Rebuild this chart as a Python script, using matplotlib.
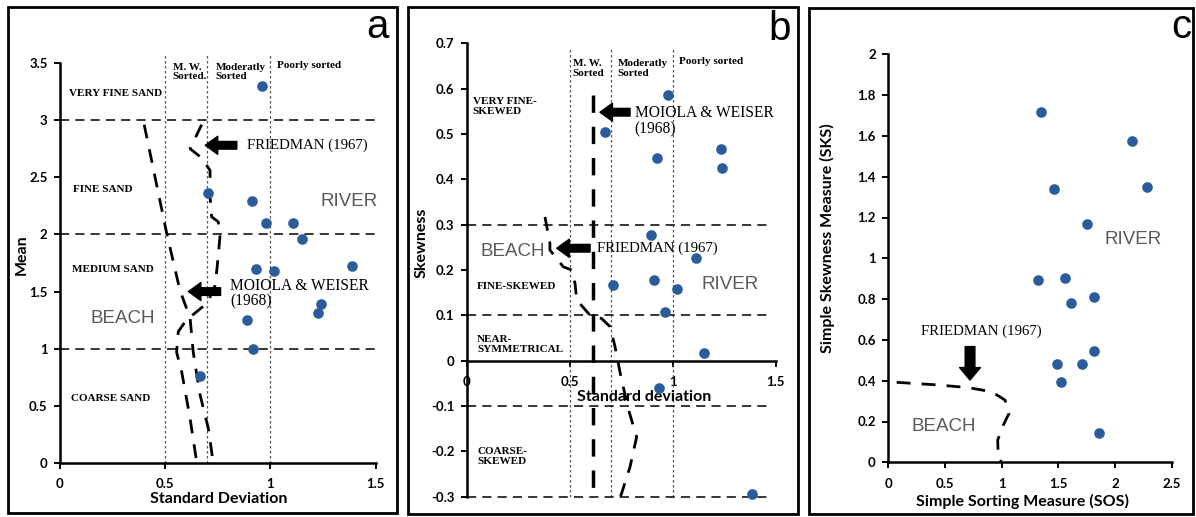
import matplotlib
matplotlib.use("Agg")
from matplotlib import pyplot as plt
from matplotlib.patches import Rectangle

# ---- panel a : mean vs standard deviation ----
a_sd = [0.958, 0.705, 0.91, 0.977, 1.107, 1.148, 0.931, 1.017, 1.387, 1.241, 1.227, 0.89, 0.918, 0.665]
a_mean = [3.30, 2.36, 2.295, 2.10, 2.10, 1.957, 1.697, 1.68, 1.726, 1.39, 1.31, 1.248, 1.0, 0.76]

a_moiola_x = [0.40, 0.507, 0.57, 0.618, 0.633, 0.665, 0.705, 0.728]
a_moiola_y = [2.96, 2.01, 1.51, 1.27, 0.97, 0.6, 0.3, 0.0]
a_friedman_x = [0.673, 0.618, 0.673, 0.713, 0.713, 0.72, 0.752, 0.76, 0.747, 0.736, 0.70,
                0.64, 0.60, 0.562, 0.554, 0.578, 0.618, 0.65]
a_friedman_y = [2.96, 2.75, 2.67, 2.56, 2.33, 2.155, 2.11, 1.98, 1.72, 1.55, 1.40,
                1.31, 1.25, 1.15, 0.97, 0.80, 0.39, 0.0]

a_yticks = [0, 0.5, 1, 1.5, 2, 2.5, 3, 3.5]
a_yticklabels = ["0", "0.5", "1", "1.5", "2", "2.5", "3", "3.5"]
a_mean_bounds = [1, 2, 3]

# ---- panel b : skewness vs standard deviation ----
b_sd = [0.979, 0.671, 0.922, 1.233, 1.238, 0.895, 1.112, 0.712, 0.911, 1.019, 0.963, 1.152, 0.935, 1.387]
b_skew = [0.587, 0.505, 0.446, 0.467, 0.426, 0.277, 0.226, 0.168, 0.179, 0.157, 0.107, 0.017, -0.061, -0.293]

b_moiola_x = [0.615, 0.615]
b_moiola_y = [0.586, -0.3]
b_friedman_x = [0.38, 0.404, 0.404, 0.469, 0.51, 0.526, 0.534, 0.599, 0.655, 0.696, 0.72,
                0.752, 0.79, 0.825, 0.793, 0.744]
b_friedman_y = [0.317, 0.259, 0.244, 0.207, 0.2, 0.17, 0.134, 0.10, 0.093, 0.075, 0.031,
                -0.043, -0.115, -0.168, -0.234, -0.304]

b_yticks = [-0.3, -0.2, -0.1, 0, 0.1, 0.2, 0.3, 0.4, 0.5, 0.6, 0.7]
b_yticklabels = ["-0.3", "-0.2", "-0.1", "0", "0.1", "0.2", "0.3", "0.4", "0.5", "0.6", "0.7"]
b_skew_bounds = [0.3, 0.1, -0.1, -0.3]

sd_ticks = [0, 0.5, 1, 1.5]
sd_ticklabels = ["0", "0.5", "1", "1.5"]
sorting_bounds = [0.5, 0.7, 1.0]

# ---- panel c : simple skewness vs simple sorting ----
c_sos = [1.348, 2.148, 1.462, 2.28, 1.756, 1.318, 1.56, 1.61, 1.816, 1.816, 1.492, 1.712, 1.524, 1.86]
c_sks = [1.719, 1.575, 1.338, 1.351, 1.168, 0.894, 0.902, 0.782, 0.812, 0.546, 0.48, 0.48, 0.392, 0.142]

c_friedman_x = [0.074, 0.441, 0.706, 0.912, 1.03, 1.065, 1.015, 0.965, 0.97, 1.0]
c_friedman_y = [0.392, 0.379, 0.366, 0.346, 0.305, 0.24, 0.183, 0.109, 0.02, 0.0]

c_xticks = [0, 0.5, 1, 1.5, 2, 2.5]
c_xticklabels = ["0", "0.5", "1", "1.5", "2", "2.5"]
c_yticks = [0, 0.2, 0.4, 0.6, 0.8, 1, 1.2, 1.4, 1.6, 1.8, 2]
c_yticklabels = ["0", "0.2", "0.4", "0.6", "0.8", "1", "1.2", "1.4", "1.6", "1.8", "2"]

dot_color = "#2B5C9A"
label_gray = "#595959"
serif = ["Liberation Serif", "DejaVu Serif"]
sans = ["Lato", "DejaVu Sans"]
arial = ["Liberation Sans", "DejaVu Sans"]

W, H = 1196, 517
fig = plt.figure(figsize=(W / 100, H / 100), dpi=100)


def px_axes(left, right, top, bottom):
    return fig.add_axes([left / W, 1 - bottom / H, (right - left) / W, (bottom - top) / H])


def style_axes(ax):
    for s in ["top", "right"]:
        ax.spines[s].set_visible(False)
    for s in ["left", "bottom"]:
        ax.spines[s].set_linewidth(1.8)
    ax.tick_params(direction="out", length=4, width=1.4, labelsize=9.5)
    ax.tick_params(axis="x", pad=7)
    ax.tick_params(axis="y", pad=5)
    for lab in ax.get_xticklabels() + ax.get_yticklabels():
        lab.set_family(sans)
        lab.set_fontweight("bold")


def axis_title(ax, x, y, txt, rot=0):
    ax.text(x, y, txt, transform=ax.transAxes, rotation=rot, family=sans, fontweight="bold",
            fontsize=11.5, ha="center", va="center")


def zone(ax, x, y, txt):
    ax.text(x, y, txt, family=serif, fontsize=8, fontweight="bold", va="center", linespacing=1.1)


def big_arrow(ax, tail, head, w=5.5, hw=13, hl=9):
    ax.annotate("", xy=head, xytext=tail,
                arrowprops=dict(facecolor="black", edgecolor="black", width=w,
                                headwidth=hw, headlength=hl, shrink=0))


# panel frames
for x0, x1, y0, y1 in [(8, 397, 7, 513), (408, 798, 7, 514), (809, 1193, 8, 514)]:
    fig.add_artist(Rectangle((x0 / W, 1 - y1 / H), (x1 - x0) / W, (y1 - y0) / H,
                             transform=fig.transFigure, fill=False, lw=2, ec="black"))

# ================= panel a =================
ax = px_axes(60, 375.7, 63, 463)
ax.set_xlim(0, 1.5)
ax.set_ylim(0, 3.5)
ax.set_xticks(sd_ticks)
ax.set_xticklabels(sd_ticklabels)
ax.set_yticks(a_yticks)
ax.set_yticklabels(a_yticklabels)
style_axes(ax)

ax.vlines(sorting_bounds, 0, 3.57, colors="#555555", linestyles=(0, (2, 2)), lw=0.9, clip_on=False)
ax.hlines(a_mean_bounds, 0, 1.5, colors="black", linestyles=(0, (6, 4)), lw=1.1)
ax.plot(a_moiola_x, a_moiola_y, color="black", lw=2, dashes=(5, 4))
ax.plot(a_friedman_x, a_friedman_y, color="black", lw=2, dashes=(5, 4))
ax.scatter(a_sd, a_mean, s=44, color=dot_color, zorder=5, clip_on=False)

zone(ax, 0.045, 3.23, "VERY FINE SAND")
zone(ax, 0.06, 2.39, "FINE SAND")
zone(ax, 0.055, 1.69, "MEDIUM SAND")
zone(ax, 0.052, 0.566, "COARSE SAND")
zone(ax, 0.535, 3.42, "M. W.\nSorted.")
zone(ax, 0.738, 3.42, "Moderatly\nSorted")
zone(ax, 1.03, 3.48, "Poorly sorted")

big_arrow(ax, (0.84, 2.78), (0.69, 2.78))
ax.text(0.887, 2.78, "FRIEDMAN (1967)", family=serif, fontsize=10.7, va="center")
big_arrow(ax, (0.763, 1.50), (0.61, 1.50))
ax.text(0.808, 1.48, "MOIOLA & WEISER\n(1968)", family=serif, fontsize=11.2, va="center",
        linespacing=1.0)
ax.text(1.24, 2.29, "RIVER", family=arial, fontsize=13.5, color=label_gray, va="center")
ax.text(0.143, 1.266, "BEACH", family=arial, fontsize=13.5, color=label_gray, va="center")

axis_title(ax, 0.502, -0.09, "Standard Deviation")
axis_title(ax, -0.12, 0.52, "Mean", rot=90)
fig.text(389 / W, 1 - 38 / H, "a", family=arial, fontsize=29, ha="right", va="baseline")

# ================= panel b =================
ax = px_axes(466.7, 775.7, 43.3, 496.7)
ax.set_xlim(0, 1.5)
ax.set_ylim(-0.3, 0.7)
ax.spines["bottom"].set_position(("data", 0))
ax.set_xticks(sd_ticks)
ax.set_xticklabels(sd_ticklabels)
ax.set_yticks(b_yticks)
ax.set_yticklabels(b_yticklabels)
style_axes(ax)

ax.vlines(sorting_bounds, -0.3, 0.69, colors="#555555", linestyles=(0, (2, 2)), lw=0.9)
ax.hlines(b_skew_bounds, 0, 1.48, colors="black", linestyles=(0, (6, 4)), lw=1.1, clip_on=False)
ax.plot(b_moiola_x, b_moiola_y, color="black", lw=2.5, dashes=(5, 4))
ax.plot(b_friedman_x, b_friedman_y, color="black", lw=2, dashes=(5, 4))
ax.scatter(b_sd, b_skew, s=44, color=dot_color, zorder=5, clip_on=False)

zone(ax, 0.03, 0.56, "VERY FINE-\nSKEWED")
zone(ax, 0.05, 0.163, "FINE-SKEWED")
zone(ax, 0.05, 0.036, "NEAR-\nSYMMETRICAL")
zone(ax, 0.05, -0.212, "COARSE-\nSKEWED")
zone(ax, 0.515, 0.644, "M. W.\nSorted")
zone(ax, 0.734, 0.644, "Moderatly\nSorted")
zone(ax, 1.03, 0.659, "Poorly sorted")

big_arrow(ax, (0.793, 0.548), (0.647, 0.548))
ax.text(0.815, 0.528, "MOIOLA & WEISER\n(1968)", family=serif, fontsize=11.2, va="center",
        linespacing=1.0)
big_arrow(ax, (0.599, 0.248), (0.437, 0.248))
ax.text(0.631, 0.248, "FRIEDMAN (1967)", family=serif, fontsize=10.7, va="center")
ax.text(1.14, 0.167, "RIVER", family=arial, fontsize=13.5, color=label_gray, va="center")
ax.text(0.065, 0.24, "BEACH", family=arial, fontsize=13.5, color=label_gray, va="center")

ax.text(0.86, -0.08, "Standard deviation", family=sans, fontweight="bold", fontsize=11.5,
        ha="center", va="center")
axis_title(ax, -0.145, 0.56, "Skewness", rot=90)
fig.text(791 / W, 1 - 40 / H, "b", family=arial, fontsize=29, ha="right", va="baseline")

# ================= panel c =================
ax = px_axes(888.3, 1171.7, 54.3, 462.3)
ax.set_xlim(0, 2.5)
ax.set_ylim(0, 2)
ax.set_xticks(c_xticks)
ax.set_xticklabels(c_xticklabels)
ax.set_yticks(c_yticks)
ax.set_yticklabels(c_yticklabels)
style_axes(ax)

ax.plot(c_friedman_x, c_friedman_y, color="black", lw=2, dashes=(5, 4))
ax.scatter(c_sos, c_sks, s=44, color=dot_color, zorder=5, clip_on=False)

big_arrow(ax, (0.721, 0.567), (0.721, 0.403), w=7, hw=15, hl=9)
ax.text(0.824, 0.64, "FRIEDMAN (1967)", family=serif, fontsize=10.7, ha="center", va="center")
ax.text(1.91, 1.09, "RIVER", family=arial, fontsize=13.5, color=label_gray, va="center")
ax.text(0.206, 0.175, "BEACH", family=arial, fontsize=13.5, color=label_gray, va="center")

axis_title(ax, 0.475, -0.097, "Simple Sorting Measure (SOS)")
axis_title(ax, -0.213, 0.55, "Simple Skewness Measure (SKS)", rot=90)
fig.text(1191 / W, 1 - 38 / H, "c", family=arial, fontsize=29, ha="right", va="baseline")

fig.savefig("out.png", dpi=100)
